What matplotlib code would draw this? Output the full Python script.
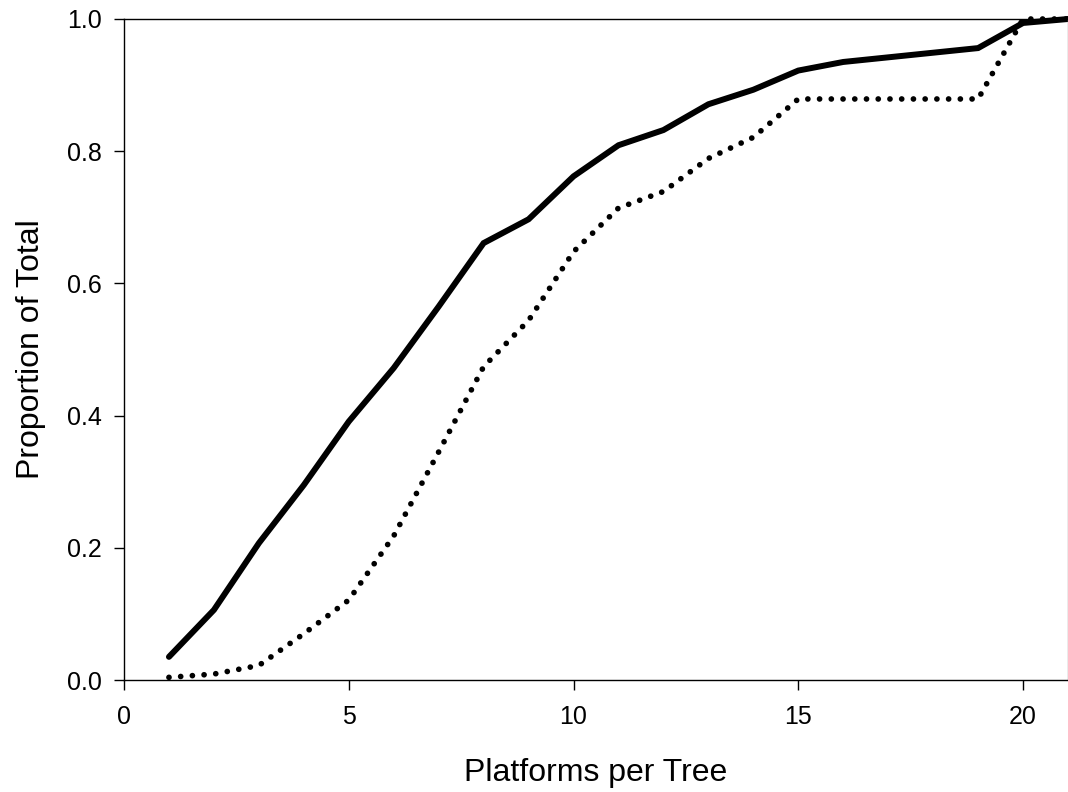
import matplotlib
matplotlib.use("Agg")
import matplotlib.pyplot as plt

plt.rcParams['font.family'] = ['Liberation Sans', 'DejaVu Sans']

# cumulative proportion of total, by platforms per tree
solid_x = [1, 2, 3, 4, 5, 6, 7, 8, 9, 10, 11, 12, 13, 14, 15, 16, 19, 20, 21]
solid_y = [0.035, 0.106, 0.207, 0.295, 0.391, 0.472, 0.565, 0.661, 0.697, 0.762,
           0.809, 0.832, 0.871, 0.893, 0.922, 0.935, 0.956, 0.994, 1.0]

dotted_x = [1, 2, 3, 4, 5, 6, 7, 8, 9, 10, 11, 12, 13, 14, 15, 19, 20, 21]
dotted_y = [0.004, 0.009, 0.022, 0.07, 0.121, 0.218, 0.345, 0.474, 0.544, 0.648,
            0.714, 0.739, 0.789, 0.821, 0.879, 0.879, 1.0, 1.0]

x_ticks = [0, 5, 10, 15, 20]
y_ticks = [0.0, 0.2, 0.4, 0.6, 0.8, 1.0]

fig = plt.figure(figsize=(10.68, 7.92), dpi=100)
ax = fig.add_axes([124 / 1068, 1 - 680 / 792, 1 - 124 / 1068, (680 - 19) / 792])

ax.plot(solid_x, solid_y, color='black', linewidth=4.3,
        solid_capstyle='round', solid_joinstyle='miter', clip_on=False)
ax.plot(dotted_x, dotted_y, color='black', linewidth=4.1,
        linestyle=(0, (0.01, 2.05)), dash_capstyle='round', clip_on=False)

ax.set_xlim(0, 21)
ax.set_ylim(0, 1.0)
ax.set_xticks(x_ticks)
ax.set_yticks(y_ticks)
ax.set_yticklabels([f"{v:.1f}" for v in y_ticks])

for s in ax.spines.values():
    s.set_linewidth(1.0)
ax.spines['right'].set_color('#999999')

ax.tick_params(direction='out', length=7, width=1.0, labelsize=18)
ax.tick_params(axis='x', pad=11)
ax.tick_params(axis='y', pad=9)

ax.set_xlabel("Platforms per Tree", fontsize=23, labelpad=21)
ax.set_ylabel("Proportion of Total", fontsize=23, labelpad=15)

fig.savefig("out.png", dpi=100)
